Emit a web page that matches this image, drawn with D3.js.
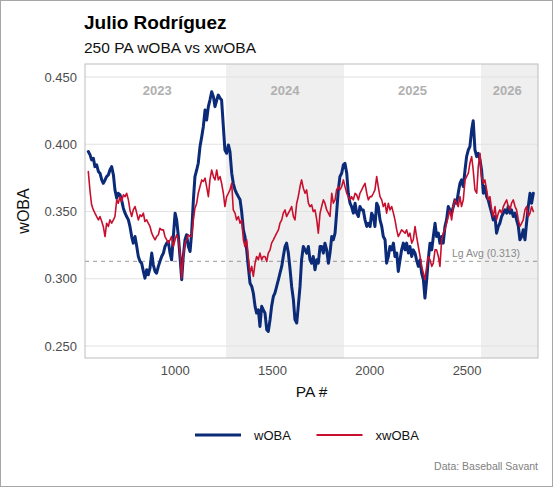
<!DOCTYPE html>
<html><head><meta charset="utf-8">
<script src="https://cdn.jsdelivr.net/npm/d3@7"></script>
<style>body{margin:0;background:#fff} svg{display:block}</style>
</head><body><svg id="c" width="554" height="488"></svg>
<script>
const pa = [
556,565,573,582,590,599,608,616,625,633,642,650,659,667,676,685,693,702,710,719,727,736,745,753,762,770,779,787,796,805,813,822,830,839,847,856,864,873,882,890,899,907,916,924,933,942,950,959,967,976,984,993,1002,1010,1019,1027,1036,1044,1053,1061,1070,1079,1087,1096,1104,1113,1121,1130,1139,1147,1156,
1164,1173,1181,1190,1199,1207,1216,1224,1233,1241,1250,1258,1267,1276,1284,1293,1301,1310,1318,1327,1336,1344,1353,1361,1370,1378,1387,1396,1404,1413,1421,1430,1438,1447,1455,1464,1473,1481,1490,1498,1507,1515,1524,1533,1541,1550,1558,1567,1575,1584,1593,1601,1610,1618,1627,1635,1644,1652,1661,1670,1678,1687,1695,1704,1712,1721,1730,1738,1747,
1755,1764,1772,1781,1790,1798,1807,1815,1824,1832,1841,1849,1858,1867,1875,1884,1892,1901,1909,1918,1927,1935,1944,1952,1961,1969,1978,1987,1995,2004,2012,2021,2029,2038,2046,2055,2064,2072,2081,2089,2098,2106,2115,2124,2132,2141,2149,2158,2166,2175,2184,2192,2201,2209,2218,2226,2235,2243,2252,2261,2269,2278,2286,2295,2303,2312,2321,2329,2338,
2346,2355,2363,2372,2380,2389,2397,2406,2414,2423,2432,2440,2449,2457,2466,2474,2483,2492,2500,2509,2517,2526,2534,2543,2552,2560,2569,2577,2586,2594,2603,2611,2620,2629,2637,2646,2654,2663,2671,2680,2689,2697,2706,2714,2723,2731,2740,2749,2757,2766,2774,2783,2791,2800,2808,2817,2826,2834,2843
];
const woba = [
0.3946,0.3921,0.3884,0.3896,0.3834,0.3847,0.3797,0.3785,0.3735,0.3710,
0.3735,0.3760,0.3772,0.3809,0.3834,0.3772,0.3661,0.3599,0.3636,0.3624,
0.3587,0.3525,0.3488,0.3463,0.3438,0.3389,0.3314,0.3265,0.3314,0.3240,
0.3166,0.3129,0.3116,0.3055,0.3005,0.3067,0.3030,0.3079,0.3191,0.3104,
0.3055,0.3042,0.3092,0.3129,0.3166,0.3191,0.3240,0.3265,0.3277,0.3191,
0.3141,0.3314,0.3488,0.3438,0.3314,0.3166,0.2993,0.3166,0.3290,0.3327,
0.3240,0.3203,0.3339,0.3587,0.3760,0.3809,0.3859,0.3983,0.4057,0.4131,
0.4255,
0.4181,0.4280,0.4329,0.4391,0.4354,0.4280,0.4329,0.4366,0.4342,0.4329,
0.4131,0.3958,0.3933,0.3995,0.3946,0.3785,0.3710,0.3661,0.3636,0.3611,
0.3587,0.3500,0.3364,0.3314,0.3215,0.3092,0.2968,0.2943,0.2894,0.2795,
0.2745,0.2770,0.2646,0.2795,0.2770,0.2745,0.2621,0.2609,0.2696,0.2795,
0.2869,0.2894,0.2943,0.2993,0.3042,0.3092,0.3166,0.3240,0.3265,0.3191,
0.3067,0.2943,0.2844,0.2696,0.2671,0.2795,0.2943,0.3141,0.3240,0.3215,
0.3191,0.3240,0.3141,0.3116,0.3166,0.3067,0.3141,0.3116,0.3240,
0.3240,0.3191,0.3265,0.3215,0.3116,0.3191,0.3314,0.3290,0.3339,0.3488,
0.3661,0.3760,0.3785,0.3847,0.3859,0.3785,0.3636,0.3562,0.3537,0.3488,
0.3562,0.3488,0.3463,0.3537,0.3512,0.3512,0.3438,0.3389,0.3413,0.3389,
0.3488,0.3463,0.3389,0.3562,0.3537,0.3438,0.3389,0.3314,0.3290,0.3116,
0.3166,0.3240,0.3215,0.3265,0.3166,0.3191,0.3055,0.3141,0.3215,0.3265,
0.3215,0.3265,0.3191,0.3240,0.3166,0.3215,0.3191,0.3141,0.3092,0.3141,
0.3042,0.2993,0.2857,0.2993,0.3141,0.3265,0.3215,0.3314,0.3413,
0.3314,0.3339,0.3265,0.3314,0.3265,0.3389,0.3438,0.3537,0.3512,0.3488,
0.3537,0.3587,0.3562,0.3636,0.3710,0.3735,0.3686,0.3809,0.3908,0.3958,
0.3983,0.4106,0.4175,0.3958,0.3908,0.3933,0.3884,0.3809,0.3636,0.3686,
0.3611,0.3587,0.3537,0.3488,0.3438,0.3463,0.3339,0.3389,0.3413,0.3463,
0.3488,0.3512,0.3488,0.3537,0.3488,0.3512,0.3463,0.3488,0.3438,0.3389,
0.3290,0.3314,0.3364,0.3290,0.3413,0.3537,0.3636,0.3562,0.3636
];
const xwoba = [
0.3797,0.3649,0.3550,0.3512,0.3488,0.3463,0.3438,0.3463,0.3426,0.3389,
0.3314,0.3413,0.3389,0.3438,0.3413,0.3438,0.3463,0.3587,0.3562,0.3611,
0.3574,0.3624,0.3611,0.3636,0.3587,0.3512,0.3463,0.3512,0.3537,0.3488,
0.3438,0.3475,0.3463,0.3488,0.3426,0.3438,0.3413,0.3389,0.3339,0.3314,
0.3290,0.3314,0.3327,0.3376,0.3364,0.3364,0.3314,0.3290,0.3265,0.3290,
0.3314,0.3240,0.3290,0.3327,0.3290,0.3191,0.3005,0.3166,0.3265,0.3290,
0.3327,0.3314,0.3314,0.3438,0.3525,0.3562,0.3636,0.3686,0.3735,0.3723,
0.3748,
0.3686,0.3611,0.3735,0.3809,0.3760,0.3735,0.3809,0.3735,0.3760,0.3710,
0.3636,0.3537,0.3611,0.3636,0.3661,0.3710,0.3512,0.3488,0.3438,0.3463,
0.3413,0.3438,0.3290,0.3240,0.3290,0.3166,0.3042,0.3092,0.3017,0.3116,
0.3166,0.3141,0.3191,0.3141,0.3166,0.3166,0.3129,0.3191,0.3215,0.3265,
0.3290,0.3314,0.3339,0.3364,0.3413,0.3438,0.3488,0.3512,0.3463,0.3488,
0.3512,0.3537,0.3463,0.3438,0.3562,0.3611,0.3686,0.3735,0.3673,0.3636,
0.3661,0.3562,0.3537,0.3550,0.3500,0.3512,0.3438,0.3339,0.3488,
0.3537,0.3587,0.3562,0.3512,0.3488,0.3463,0.3636,0.3562,0.3587,0.3661,
0.3686,0.3661,0.3686,0.3735,0.3686,0.3636,0.3611,0.3587,0.3611,0.3587,
0.3636,0.3624,0.3587,0.3636,0.3661,0.3686,0.3710,0.3636,0.3587,0.3611,
0.3611,0.3636,0.3661,0.3760,0.3686,0.3611,0.3587,0.3537,0.3562,0.3488,
0.3562,0.3512,0.3537,0.3488,0.3438,0.3364,0.3314,0.3339,0.3364,0.3352,
0.3339,0.3364,0.3314,0.3339,0.3265,0.3290,0.3389,0.3314,0.3240,0.3166,
0.3092,0.3042,0.2993,0.3092,0.3166,0.3141,0.3092,0.3116,0.3215,
0.3215,0.3166,0.3092,0.3290,0.3339,0.3364,0.3413,0.3463,0.3512,0.3438,
0.3537,0.3587,0.3562,0.3537,0.3611,0.3537,0.3587,0.3735,0.3760,0.3785,
0.3859,0.3908,0.3809,0.3661,0.3636,0.3834,0.3933,0.3760,0.3710,0.3735,
0.3661,0.3587,0.3611,0.3512,0.3463,0.3537,0.3438,0.3488,0.3512,0.3488,
0.3537,0.3562,0.3587,0.3537,0.3512,0.3562,0.3587,0.3537,0.3512,0.3438,
0.3389,0.3413,0.3438,0.3512,0.3537,0.3463,0.3488,0.3537,0.3500
];
const seriesNames = ["wOBA","xwOBA"];
const seriesColors = ["#0b2a78","#c8102e"];
const yTicks = [0.25,0.30,0.35,0.40,0.45];
const xTicks = [1000,1500,2000,2500];
const seasons = ["2023","2024","2025","2026"];
const seasonStart = [556,1264,1870,2574];
const seasonEnd = [1264,1870,2574,2843];
const seasonShaded = [false,true,false,true];
const lgAvg = 0.313;

const FONT = "'Liberation Sans', Arial, Helvetica, sans-serif";
const P = {l:85, r:538, t:64, b:358};
const svg = d3.select("#c").style("font-family", FONT);
const x = d3.scaleLinear().domain([539, 2867]).range([P.l, P.r]);
const y = d3.scaleLinear().domain([0.2411, 0.4597]).range([P.b, P.t]);

svg.append("rect").attr("x",0.5).attr("y",0.5).attr("width",552).attr("height",486)
  .attr("fill","#fff").attr("stroke","#a6a6a6");

// season bands
svg.append("g").selectAll("rect").data(seasons.map((s,i)=>i).filter(i=>seasonShaded[i])).join("rect")
  .attr("x", i => x(seasonStart[i]))
  .attr("width", i => (i === seasons.length-1 ? P.r : x(seasonEnd[i])) - x(seasonStart[i]))
  .attr("y", P.t).attr("height", P.b - P.t).attr("fill", "#efefef");

// gridlines
svg.append("g").selectAll("line").data(yTicks).join("line")
  .attr("x1", P.l).attr("x2", P.r).attr("y1", d => y(d)).attr("y2", d => y(d))
  .attr("stroke", "#e2e2e2").attr("stroke-width", 1.1);

// year labels
svg.append("g").selectAll("text").data(seasons).join("text")
  .attr("x", (d,i) => x((seasonStart[i] + seasonEnd[i]) / 2)).attr("y", 95)
  .attr("text-anchor","middle").attr("font-size", 13).attr("font-weight","bold")
  .attr("fill","#b0b0b0").text(d => d);

// league average
svg.append("line").attr("x1",P.l).attr("x2",P.r).attr("y1",y(lgAvg)).attr("y2",y(lgAvg))
  .attr("stroke","#8a8a8a").attr("stroke-width",0.9).attr("stroke-dasharray","4,4");
svg.append("text").attr("x", 520).attr("y", y(lgAvg) - 4.5).attr("text-anchor","end")
  .attr("font-size", 10.5).attr("fill","#8a8a8a").text("Lg Avg (" + lgAvg.toFixed(3) + ")");

// lines
svg.append("clipPath").attr("id","clip").append("rect")
  .attr("x",P.l).attr("y",P.t).attr("width",P.r-P.l).attr("height",P.b-P.t);
const n = Math.min(pa.length, woba.length, xwoba.length);
const idx = d3.range(n);
const series = [woba, xwoba];
const widths = [3, 1.6];
series.forEach((s, k) => {
  svg.append("path").attr("clip-path","url(#clip)")
    .attr("d", d3.line().x(i => x(pa[i])).y(i => y(s[i]))(idx))
    .attr("fill","none").attr("stroke", seriesColors[k]).attr("stroke-width", widths[k])
    .attr("stroke-linejoin","round").attr("stroke-linecap","round");
});

// panel border
svg.append("rect").attr("x",P.l).attr("y",P.t).attr("width",P.r-P.l).attr("height",P.b-P.t)
  .attr("fill","none").attr("stroke","#bdbdbd");

// axes
const ya = svg.append("g").attr("transform",`translate(${P.l},0)`)
  .call(d3.axisLeft(y).tickValues(yTicks).tickFormat(d3.format(".3f")).tickSize(0).tickPadding(8));
const xa = svg.append("g").attr("transform",`translate(0,${P.b})`)
  .call(d3.axisBottom(x).tickValues(xTicks).tickFormat(d3.format("d")).tickSize(0).tickPadding(8));
[ya, xa].forEach(a => {
  a.select(".domain").remove();
  a.selectAll("text").attr("font-size", 13).attr("fill","#4d4d4d").attr("font-family", FONT);
});

// axis titles
svg.append("text").attr("x", (P.l+P.r)/2).attr("y", 396.5).attr("text-anchor","middle")
  .attr("font-size", 15.5).attr("fill","#111").text("PA #");
svg.append("text").attr("transform", `translate(28.5,${(P.t+P.b)/2}) rotate(-90)`)
  .attr("text-anchor","middle").attr("font-size", 16).attr("fill","#111").text("wOBA");

// titles
svg.append("text").attr("x",84).attr("y",29).attr("font-size",19).attr("font-weight","bold")
  .attr("fill","#000").text("Julio Rodríguez");
svg.append("text").attr("x",84).attr("y",52.5).attr("font-size",15.5)
  .attr("fill","#111").text("250 PA wOBA vs xwOBA");

// legend
const lx = [195, 316.5];
seriesNames.forEach((nm, k) => {
  svg.append("line").attr("x1", lx[k]).attr("x2", lx[k] + 46).attr("y1", 435).attr("y2", 435)
    .attr("stroke", seriesColors[k]).attr("stroke-width", k === 0 ? 3 : 2);
  svg.append("text").attr("x", lx[k] + 59).attr("y", 439.5).attr("font-size", 13)
    .attr("fill","#111").text(nm);
});

svg.append("text").attr("x",538).attr("y",469.5).attr("text-anchor","end")
  .attr("font-size",10.5).attr("fill","#808080").text("Data: Baseball Savant");
</script></body></html>
